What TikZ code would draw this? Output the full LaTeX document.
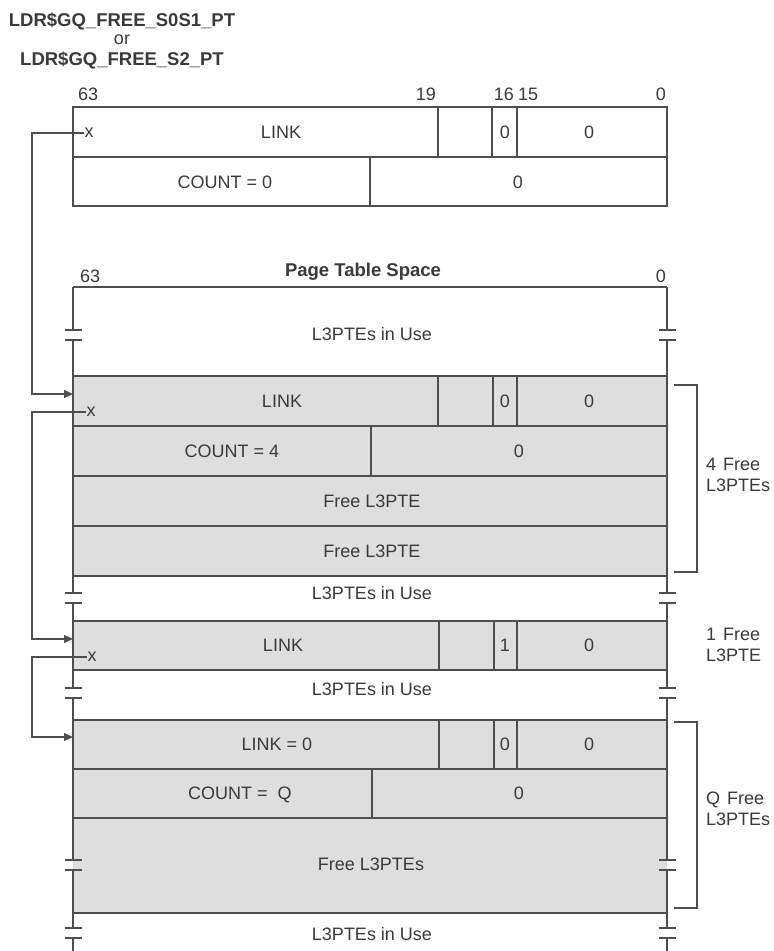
\documentclass[tikz,border=0pt]{standalone}
\usepackage{fontspec}
\setmainfont{Liberation Sans}
\usetikzlibrary{arrows.meta}
\definecolor{lc}{RGB}{78,78,78}
\definecolor{tc}{RGB}{58,58,58}
\definecolor{fillg}{RGB}{222,222,222}
\begin{document}
\begin{tikzpicture}[x=1pt,y=-1pt,
  edge/.style={draw=lc, line width=1.1pt},
  lbl/.style={font=\fontsize{18}{21}\selectfont, text=tc, inner sep=0pt, text height=12.9pt, text depth=0pt},
  hdr/.style={font=\fontsize{18.5}{21}\selectfont\bfseries, text=tc, inner sep=0pt},
  bitn/.style={font=\fontsize{18}{21}\selectfont, text=tc, inner sep=0pt},
  side/.style={font=\fontsize{18}{21}\selectfont, text=tc, inner sep=0pt, align=left, anchor=west},
  xm/.style={font=\fontsize{18}{21}\selectfont, text=tc, inner sep=0.8pt, text height=9.3pt, text depth=0pt},
  ptr/.style={edge, -{Triangle[length=9pt,width=8pt]}},
  tick/.style={edge}]
\useasboundingbox (0,0) rectangle (774,951);

% ---------- header ----------
\node[hdr, anchor=base, text depth=0pt] (h1) at (122,26) {LDR\$GQ\_FREE\_S0S1\_PT};
\node[bitn, anchor=base] (h2) at (122,44) {or};
\node[hdr, anchor=base] (h3) at (122,65) {LDR\$GQ\_FREE\_S2\_PT};

% ---------- top quadword ----------
\node[bitn, anchor=base west] (b63a) at (78,100) {63};
\node[bitn, anchor=base east] (b19) at (436,100) {19};
\node[bitn, anchor=base east] (b16) at (514,100) {16};
\node[bitn, anchor=base west] (b15) at (518,100) {15};
\node[bitn, anchor=base east] (b0a) at (666,100) {0};

\draw[edge] (73,107) rectangle (667,206);
\draw[edge] (73,157) -- (667,157);
\draw[edge] (438,107) -- (438,157);
\draw[edge] (492,107) -- (492,157);
\draw[edge] (517,107) -- (517,157);
\draw[edge] (370,157) -- (370,206);

\node[lbl] (tlink) at (281,132) {LINK};
\node[lbl] (tz1) at (505,132) {0};
\node[lbl] (tz2) at (589,132) {0};
\node[lbl] (tcount) at (225,182) {COUNT = 0};
\node[lbl] (tz3) at (518,182) {0};
\node[xm] (x0) at (89,133) {x};

% ---------- page table space ----------
\node[bitn, anchor=base west] (b63b) at (80,282) {63};
\node[hdr, anchor=base] (pts) at (363,276) {Page Table Space};
\node[bitn, anchor=base east] (b0b) at (666,282) {0};

% grey fills
\fill[fillg] (73,376) rectangle (667,576);
\fill[fillg] (73,621) rectangle (667,670);
\fill[fillg] (73,720) rectangle (667,913);

% horizontal lines
\foreach \yy in {287,376,426,476,526,576,621,670,720,769,818,913}
  \draw[edge] (73,\yy) -- (667,\yy);

% field dividers
\draw[edge] (438,376) -- (438,426);
\draw[edge] (493,376) -- (493,426);
\draw[edge] (517,376) -- (517,426);
\draw[edge] (371,426) -- (371,476);
\draw[edge] (439,621) -- (439,670);
\draw[edge] (494,621) -- (494,670);
\draw[edge] (517,621) -- (517,670);
\draw[edge] (439,720) -- (439,769);
\draw[edge] (494,720) -- (494,769);
\draw[edge] (517,720) -- (517,769);
\draw[edge] (372,769) -- (372,818);

% side edges with breaks
\foreach \xx in {73,667}{
  \draw[edge] (\xx,287) -- (\xx,330);
  \draw[edge] (\xx,340) -- (\xx,593);
  \draw[edge] (\xx,603) -- (\xx,688);
  \draw[edge] (\xx,698) -- (\xx,860);
  \draw[edge] (\xx,870) -- (\xx,928);
  \draw[edge] (\xx,938) -- (\xx,951);
  \foreach \yy in {330,340,593,603,688,698,860,870,928,938}
    \draw[tick] (\xx-8.5,\yy) -- (\xx+8.5,\yy);
}

% labels
\node[lbl] (u1) at (372,334) {L3PTEs in Use};
\node[lbl] (l1) at (282,401) {LINK};
\node[lbl] (l1a) at (505,401) {0};
\node[lbl] (l1b) at (589,401) {0};
\node[lbl] (c1) at (232,451) {COUNT = 4};
\node[lbl] (c1a) at (519,451) {0};
\node[lbl] (f1) at (372,501) {Free L3PTE};
\node[lbl] (f2) at (372,551) {Free L3PTE};
\node[lbl] (u2) at (372,593) {L3PTEs in Use};
\node[lbl] (l2) at (283,645) {LINK};
\node[lbl] (l2a) at (505,645) {1};
\node[lbl] (l2b) at (589,645) {0};
\node[lbl] (u3) at (372,689) {L3PTEs in Use};
\node[lbl] (l3) at (277,744) {LINK = 0};
\node[lbl] (l3a) at (505,744) {0};
\node[lbl] (l3b) at (589,744) {0};
\node[lbl] (c3) at (240,793) {COUNT =\ \ Q};
\node[lbl] (c3a) at (519,793) {0};
\node[lbl] (f3) at (371,864) {Free L3PTEs};
\node[lbl] (u4) at (372,934) {L3PTEs in Use};

\node[xm] (x1) at (91,412) {x};
\node[xm] (x2) at (92,657) {x};

% brackets
\draw[edge] (674,385) -- (697,385) -- (697,572) -- (674,572);
\draw[edge] (674,722) -- (697,722) -- (697,908) -- (674,908);
\node[side] (s1) at (706,474.5) {4\hspace{7pt}Free\\L3PTEs};
\node[side] (s2) at (706,645) {1\hspace{7pt}Free\\L3PTE};
\node[side] (s3) at (706,809) {Q\hspace{7pt}Free\\L3PTEs};

% pointers
\coordinate (e1) at (73,394);
\coordinate (e2) at (73,639);
\coordinate (e3) at (73,737);
\coordinate (k1) at (32,394);
\coordinate (k2) at (32,639);
\coordinate (k3) at (32,737);
\draw[ptr] (x0.west) -| (k1) -- (e1);
\draw[ptr] (x1.west) -| (k2) -- (e2);
\draw[ptr] (x2.west) -| (k3) -- (e3);
\end{tikzpicture}
\end{document}
